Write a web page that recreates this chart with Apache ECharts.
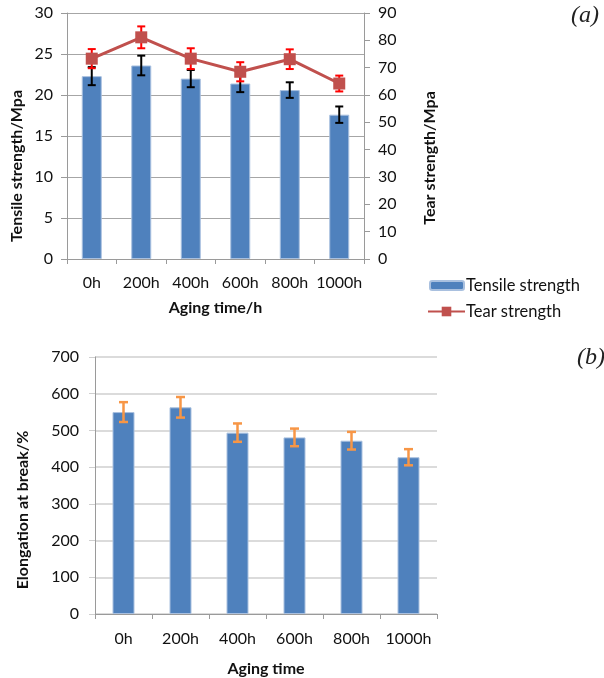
<!DOCTYPE html>
<html>
<head>
<meta charset="utf-8">
<script src="https://cdn.jsdelivr.net/npm/echarts@6/dist/echarts.min.js"></script>
<style>
  html, body { margin: 0; padding: 0; background: #fff; }
  #chart { width: 604px; height: 678px; }
</style>
</head>
<body>
<div id="chart"></div>
<script>
// Aging times shared by both panels
const categories = ['0h', '200h', '400h', '600h', '800h', '1000h'];

// Panel (a): tensile strength (left axis) and tear strength (right axis), with standard deviations
const tensile = [22.3, 23.6, 22.0, 21.4, 20.6, 17.6];
const tensileErr = [1.1, 1.2, 1.05, 1.05, 0.95, 1.0];
const tear = [73.3, 81.1, 73.3, 68.5, 73.1, 64.2];
const tearErr = [3.5, 4.0, 3.8, 3.5, 3.6, 2.9];

// Panel (b): elongation at break
const elongation = [550, 563, 494, 481, 472, 427];
const elongationErr = [27, 28, 25, 24, 24, 22];

// Axis tick settings
const tensileTicks = { min: 0, max: 30, interval: 5 };
const tearTicks = { min: 0, max: 90, interval: 10 };
const elongTicks = { min: 0, max: 700, interval: 100 };

const FONT = 'Lato';
const FS = 16;
const BLUE = '#4F81BD';
const RED = '#C0504D';

function errData(vals, errs) {
  return vals.map((v, i) => [i, v - errs[i], v + errs[i]]);
}

function errorBar(color, capHalf, lineW) {
  return function (params, api) {
    const i = api.value(0);
    const lo = api.coord([i, api.value(1)]);
    const hi = api.coord([i, api.value(2)]);
    const st = { stroke: color, lineWidth: lineW };
    return {
      type: 'group',
      children: [
        { type: 'line', shape: { x1: lo[0], y1: lo[1], x2: hi[0], y2: hi[1] }, style: st },
        { type: 'line', shape: { x1: hi[0] - capHalf, y1: hi[1], x2: hi[0] + capHalf, y2: hi[1] }, style: st },
        { type: 'line', shape: { x1: lo[0] - capHalf, y1: lo[1], x2: lo[0] + capHalf, y2: lo[1] }, style: st }
      ]
    };
  };
}

const labelStyle = { fontFamily: FONT, fontSize: FS, color: '#111' };

function catAxis(gridIndex, name, nameGap, margin) {
  return {
    type: 'category',
    gridIndex: gridIndex,
    data: categories,
    name: name,
    nameLocation: 'middle',
    nameGap: nameGap,
    nameTextStyle: { fontFamily: FONT, fontSize: FS, fontWeight: 'bold', color: '#111' },
    axisLine: { lineStyle: { color: '#9a9a9a', width: 1 } },
    axisTick: { show: true, length: 5, lineStyle: { color: '#9a9a9a' } },
    axisLabel: Object.assign({ margin: margin, interval: 0 }, labelStyle),
    splitLine: { show: false }
  };
}

const legendText = { fontFamily: FONT, fontSize: 16.5, color: '#111' };
const tagStyle = { fontFamily: 'Liberation Serif', fontSize: 24, fontStyle: 'italic', fill: '#222' };

const chart = echarts.init(document.getElementById('chart'), null, { renderer: 'canvas' });

chart.setOption({
  animation: false,
  backgroundColor: '#fff',
  grid: [
    { left: 67, top: 13, width: 297, height: 246, containLabel: false },
    { left: 95, top: 357, width: 342, height: 257, containLabel: false }
  ],
  legend: [
    {
      data: ['Tensile strength'],
      orient: 'vertical',
      left: 429, top: 277,
      padding: 0,
      itemWidth: 34, itemHeight: 9,
      textStyle: Object.assign({ padding: [0, 0, 0, -3] }, legendText)
    },
    {
      data: ['Tear strength'],
      orient: 'vertical',
      left: 427, top: 303,
      padding: 0,
      itemWidth: 37, itemHeight: 12,
      textStyle: Object.assign({ padding: [0, 0, 0, -4] }, legendText)
    }
  ],
  xAxis: [
    catAxis(0, 'Aging time/h', 41, 16),
    catAxis(1, 'Aging time', 47, 17)
  ],
  yAxis: [
    Object.assign({
      type: 'value', gridIndex: 0, position: 'left',
      axisLine: { show: true, lineStyle: { color: '#9a9a9a' } },
      axisTick: { show: true, length: 6, lineStyle: { color: '#9a9a9a' } },
      axisLabel: Object.assign({ margin: 14 }, labelStyle),
      splitLine: { show: true, lineStyle: { color: '#a6a6a6', width: 1 } }
    }, tensileTicks),
    Object.assign({
      type: 'value', gridIndex: 0, position: 'right',
      axisLine: { show: true, lineStyle: { color: '#9a9a9a' } },
      axisTick: { show: true, length: 6, lineStyle: { color: '#9a9a9a' } },
      axisLabel: Object.assign({ margin: 14 }, labelStyle),
      splitLine: { show: false }
    }, tearTicks),
    Object.assign({
      type: 'value', gridIndex: 1, position: 'left',
      axisLine: { show: true, lineStyle: { color: '#9a9a9a' } },
      axisTick: { show: true, length: 6, lineStyle: { color: '#cfcfcf' } },
      axisLabel: Object.assign({ margin: 16 }, labelStyle),
      splitLine: { show: true, lineStyle: { color: '#cfcfcf', width: 1.5 } }
    }, elongTicks)
  ],
  series: [
    {
      name: 'Tensile strength',
      type: 'bar',
      xAxisIndex: 0, yAxisIndex: 0,
      data: tensile,
      barWidth: 20,
      itemStyle: { color: BLUE, borderColor: '#A9C0DF', borderWidth: 1 },
      z: 2
    },
    {
      name: 'Tensile error',
      type: 'custom',
      xAxisIndex: 0, yAxisIndex: 0,
      data: errData(tensile, tensileErr),
      encode: { x: 0, y: [1, 2] },
      renderItem: errorBar('#000', 4, 2),
      z: 3
    },
    {
      name: 'Tear error',
      type: 'custom',
      xAxisIndex: 0, yAxisIndex: 1,
      data: errData(tear, tearErr),
      encode: { x: 0, y: [1, 2] },
      renderItem: errorBar('#FF0000', 4, 2),
      z: 4
    },
    {
      name: 'Tear strength',
      type: 'line',
      xAxisIndex: 0, yAxisIndex: 1,
      data: tear,
      symbol: 'rect',
      symbolSize: 12,
      lineStyle: { color: RED, width: 3 },
      itemStyle: { color: RED },
      z: 5
    },
    {
      name: 'Elongation at break',
      type: 'bar',
      xAxisIndex: 1, yAxisIndex: 2,
      data: elongation,
      barWidth: 22,
      itemStyle: { color: BLUE, borderColor: '#A9C0DF', borderWidth: 1 },
      z: 2
    },
    {
      name: 'Elongation error',
      type: 'custom',
      xAxisIndex: 1, yAxisIndex: 2,
      data: errData(elongation, elongationErr),
      encode: { x: 0, y: [1, 2] },
      renderItem: errorBar('#F79646', 4.5, 2.5),
      z: 3
    }
  ],
  graphic: [
    {
      type: 'text', x: 17, y: 166, rotation: Math.PI / 2,
      style: { text: 'Tensile strength/Mpa', fontFamily: FONT, fontSize: FS, fontWeight: 'bold', fill: '#111', align: 'center', verticalAlign: 'middle' }
    },
    {
      type: 'text', x: 430, y: 158, rotation: Math.PI / 2,
      style: { text: 'Tear strength/Mpa', fontFamily: FONT, fontSize: FS, fontWeight: 'bold', fill: '#111', align: 'center', verticalAlign: 'middle' }
    },
    {
      type: 'text', x: 23, y: 510, rotation: Math.PI / 2,
      style: { text: 'Elongation at break/%', fontFamily: FONT, fontSize: FS, fontWeight: 'bold', fill: '#111', align: 'center', verticalAlign: 'middle' }
    },
    { type: 'text', x: 571, y: 4, style: Object.assign({ text: '(a)' }, tagStyle) },
    { type: 'text', x: 577, y: 346, style: Object.assign({ text: '(b)' }, tagStyle) }
  ]
});
</script>
</body>
</html>
